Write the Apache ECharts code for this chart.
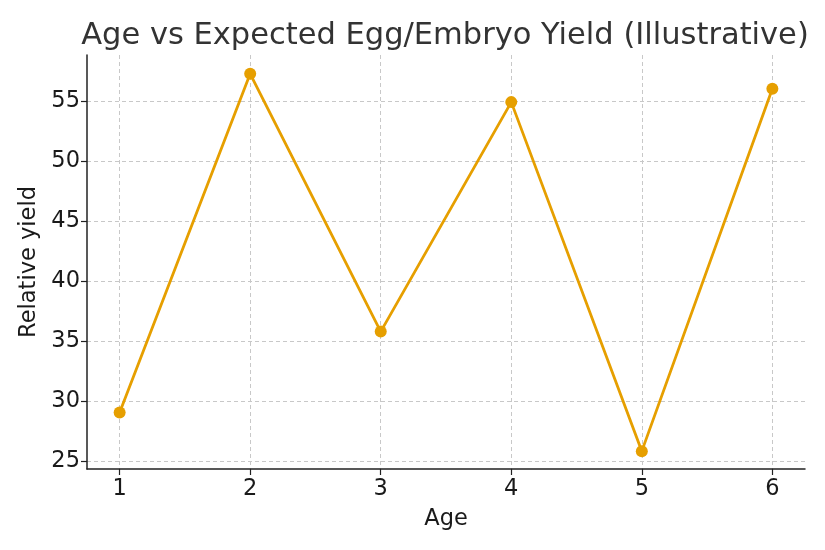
<!DOCTYPE html>
<html>
<head>
<meta charset="utf-8">
<script src="https://cdn.jsdelivr.net/npm/echarts@6/dist/echarts.min.js"></script>
<style>html,body{margin:0;padding:0;background:#fff}#c{width:825px;height:550px}</style>
</head>
<body>
<div id="c"></div>
<script>
const ages = [1, 2, 3, 4, 5, 6];
const yieldValues = [29.03, 57.28, 35.78, 54.92, 25.81, 56.03];
const xTicks = [1, 2, 3, 4, 5, 6];
const yTicks = [25, 30, 35, 40, 45, 50, 55];
const titleText = 'Age vs Expected Egg/Embryo Yield (Illustrative)';

const chart = echarts.init(document.getElementById('c'), null, {renderer: 'canvas'});
const font = 'DejaVu Sans';
chart.setOption({
  animation: false,
  backgroundColor: '#fff',
  title: {
    text: titleText,
    left: 440, top: 16, textAlign: 'center',
    textStyle: {fontFamily: font, fontSize: 30.5, fontWeight: 'normal', color: '#333'}
  },
  grid: {left: 87, right: 20, top: 55, bottom: 81, containLabel: false},
  xAxis: {
    type: 'value', min: 0.75, max: 6.25,
    name: 'Age', nameLocation: 'middle', nameGap: 39,
    nameTextStyle: {fontFamily: font, fontSize: 22.5, color: '#1a1a1a'},
    axisLine: {show: true, onZero: false, lineStyle: {color: '#222', width: 1.5}},
    axisTick: {show: true, length: 6, lineStyle: {color: '#222', width: 1.2}, customValues: xTicks},
    axisLabel: {fontFamily: font, fontSize: 22.5, color: '#1a1a1a', margin: 9, customValues: xTicks},
    splitLine: {show: true, lineStyle: {color: '#c8c8c8', type: [4, 3], width: 1}}
  },
  yAxis: {
    type: 'value', min: 24.32, max: 58.85,
    name: 'Relative yield', nameLocation: 'middle', nameGap: 36,
    nameTextStyle: {fontFamily: font, fontSize: 22.5, color: '#1a1a1a'},
    axisLine: {show: true, onZero: false, lineStyle: {color: '#222', width: 1.5}},
    axisTick: {show: true, length: 6, lineStyle: {color: '#222', width: 1.2}, customValues: yTicks},
    axisLabel: {fontFamily: font, fontSize: 22.5, color: '#1a1a1a', margin: 7, customValues: yTicks},
    splitLine: {show: true, lineStyle: {color: '#c8c8c8', type: [4, 3], width: 1}}
  },
  series: [{
    type: 'line',
    data: ages.map((a, i) => [a, yieldValues[i]]),
    symbol: 'circle', symbolSize: 12,
    lineStyle: {color: '#E69F00', width: 2.8},
    itemStyle: {color: '#E69F00'},
    z: 5
  }]
});
</script>
</body>
</html>
